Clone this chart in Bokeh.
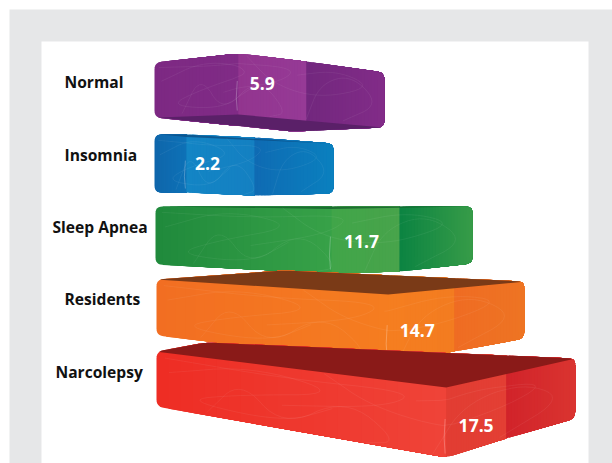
from bokeh.embed import file_html
from bokeh.models import ColumnDataSource, Range1d
from bokeh.plotting import figure
from bokeh.resources import INLINE
from bokeh.core.properties import value as fixed

# Chart content
categories = ["Normal", "Insomnia", "Sleep Apnea", "Residents", "Narcolepsy"]
values = [5.9, 2.2, 11.7, 14.7, 17.5]
value_labels = ["5.9", "2.2", "11.7", "14.7", "17.5"]

# Perspective drawing of each block. The front corner sits at left + value * unit,
# so blocks nearer the viewer have a larger unit.
SHAPES = [
    dict(left=154, unit=14.2, band=68, side=78, lt=62, lb=117, ct=53, cb=114, bt=61, bb=120, rt=72, rb=127,
         under=(292, 131), back=None, label_x=64, label_y=81, val_dx=24, val_y=83,
         front=("#7d2983", "#802b86"), mid=("#92358f", "#963a96"), end=("#72277e", "#822c88"),
         cap="#5a2068"),
    dict(left=154, unit=14.5, band=68, side=79, lt=134, lb=192, ct=134, cb=192, bt=137, bb=195, rt=143, rb=193,
         under=None, back=None, label_x=64, label_y=154, val_dx=21, val_y=163,
         front=("#0f66ab", "#0e72b7"), mid=("#1385c5", "#1480c2"), end=("#0f6bb3", "#0a80bf"),
         cap="#0b4f86"),
    dict(left=155, unit=15.04, band=68, side=73, lt=206, lb=264, ct=206, cb=273, bt=206, bb=271, rt=206, rb=263,
         under=None, back=None, label_x=52, label_y=226, val_dx=30, val_y=241,
         front=("#1f8a3c", "#38a148"), mid=("#41a549", "#48a44b"), end=("#0b8442", "#379b48"),
         cap="#14602b"),
    dict(left=156, unit=15.76, band=66, side=70, lt=279, lb=335, ct=294, cb=362, bt=288, bb=351, rt=281, rb=338,
         under=None, back=(283, 270), label_x=64, label_y=298, val_dx=29, val_y=330,
         front=("#f26e22", "#f57d20"), mid=("#f57e20", "#f37c20"), end=("#ef6c23", "#ee7423"),
         cap="#7a3a17"),
    dict(left=156, unit=16.55, band=60, side=69, lt=351, lb=406, ct=387, cb=457, bt=377, bb=438, rt=358, rb=418,
         under=None, back=(205, 342), label_x=55, label_y=371, val_dx=30, val_y=425,
         front=("#ee2d24", "#ef4338"), mid=("#e23d33", "#e33f34"), end=("#d1232a", "#da3430"),
         cap="#8a1a18"),
]

# Faint hand-drawn loops printed across the block faces, in face coordinates.
SCRIBBLES = [
    [(0.03, 0.35), (0.22, 0.05), (0.45, 0.3), (0.2, 0.55), (0.06, 0.8), (0.3, 0.9), (0.42, 0.55)],
    [(0.12, 0.95), (0.2, 0.3), (0.3, 0.98), (0.45, 0.35), (0.58, 0.9), (0.5, 0.99)],
    [(0.4, 0.02), (0.52, 0.45), (0.72, 0.6), (0.95, 0.3), (0.8, 0.08), (0.62, 0.25)],
    [(0.66, 0.98), (0.72, 0.35), (0.86, 0.12), (0.98, 0.6), (0.82, 0.95)],
    [(0.02, 0.1), (0.3, 0.18), (0.62, 0.12), (0.55, 0.4), (0.3, 0.62)],
]


def round_corners(points, radius=7, samples=6):
    """Replace each vertex of a closed outline by a short curve."""
    out = []
    n = len(points)
    for i, v in enumerate(points):
        a, b = points[i - 1], points[(i + 1) % n]
        def toward(q):
            d = ((q[0] - v[0]) ** 2 + (q[1] - v[1]) ** 2) ** 0.5
            t = min(radius, d / 2) / d
            return (v[0] + (q[0] - v[0]) * t, v[1] + (q[1] - v[1]) * t)
        p0, p2 = toward(a), toward(b)
        for k in range(samples + 1):
            t = k / samples
            out.append(((1 - t) ** 2 * p0[0] + 2 * t * (1 - t) * v[0] + t ** 2 * p2[0],
                        (1 - t) ** 2 * p0[1] + 2 * t * (1 - t) * v[1] + t ** 2 * p2[1]))
    return out


def smooth_open(points, rounds=3):
    for _ in range(rounds):
        out = [points[0]]
        for (x0, y0), (x1, y1) in zip(points, points[1:]):
            out.append((0.75 * x0 + 0.25 * x1, 0.75 * y0 + 0.25 * y1))
            out.append((0.25 * x0 + 0.75 * x1, 0.25 * y0 + 0.75 * y1))
        out.append(points[-1])
        points = out
    return points


def clip_half(points, a, b):
    """Keep the part of a polygon on the positive side of the line a-b."""
    def side(p):
        return (b[0] - a[0]) * (p[1] - a[1]) - (b[1] - a[1]) * (p[0] - a[0])
    out = []
    for i, p in enumerate(points):
        q = points[(i + 1) % len(points)]
        sp, sq = side(p), side(q)
        if sp >= 0:
            out.append(p)
        if sp * sq < 0:
            t = sp / (sp - sq)
            out.append((p[0] + t * (q[0] - p[0]), p[1] + t * (q[1] - p[1])))
    return out


def clip_convex(points, region):
    area = sum(region[i][0] * region[(i + 1) % len(region)][1] - region[(i + 1) % len(region)][0] * region[i][1]
               for i in range(len(region)))
    ring = region if area > 0 else region[::-1]
    for i in range(len(ring)):
        if not points:
            break
        points = clip_half(points, ring[i], ring[(i + 1) % len(ring)])
    return points


def blend(c0, c1, t):
    a = [int(c0[i:i + 2], 16) for i in (1, 3, 5)]
    b = [int(c1[i:i + 2], 16) for i in (1, 3, 5)]
    return "#%02x%02x%02x" % tuple(round(u + (v - u) * t) for u, v in zip(a, b))


p = figure(width=612, height=463, output_backend="svg", toolbar_location=None,
           x_range=Range1d(0, 612), y_range=Range1d(463, 0), min_border=0,
           background_fill_color="white", border_fill_color="white", outline_line_color=None)
p.axis.visible = False
p.grid.visible = False

# Page frame around the chart panel
p.quad(left=[9], right=[612], top=[9], bottom=[463], fill_color="#e6e7e8", line_color=None)
p.quad(left=[41], right=[588], top=[41], bottom=[463], fill_color="white", line_color=None)

for val, s in zip(values, SHAPES):
    corner = s["left"] + val * s["unit"]
    band_end = corner + s["band"]
    right = band_end + s["side"]
    L, C, B, R = s["left"], corner, band_end, right

    # Silhouette, running clockwise from the upper left
    outline = [(L, s["lt"])]
    if s["back"]:
        outline.append(s["back"])
    else:
        outline += [(C, s["ct"]), (B, s["bt"])]
    outline += [(R, s["rt"]), (R, s["rb"])]
    if s["under"]:
        outline.append(s["under"])
    else:
        outline.append((B, s["bb"]))
        outline.append((C, s["cb"]))
    outline.append((L, s["lb"]))
    outline = round_corners(outline)

    # Each face is painted left to right in overlapping slabs, which gives a smooth ramp
    faces = [(L, C, s["front"]), (C, B, s["mid"]), (B, R, s["end"])]
    for x0, x1, (c0, c1) in faces:
        steps = 24
        xs, ys, fills = [], [], []
        for k in range(steps):
            sx0 = x0 + (x1 - x0) * k / steps
            piece = clip_convex(outline, [(sx0, 0), (x1, 0), (x1, 463), (sx0, 463)])
            if piece:
                xs.append([q[0] for q in piece])
                ys.append([q[1] for q in piece])
                fills.append(blend(c0, c1, (k + 0.5) / steps))
        p.patches(xs=xs, ys=ys, fill_color=fills, line_color=None)

    # Top face of the nearer blocks, underside of the raised one, and a thin rim on the flat ones
    if s["back"]:
        top = clip_convex(outline, [(L - 1, s["lt"]), s["back"], (R + 1, s["rt"]), (C, s["ct"])])
        p.patch([q[0] for q in top], [q[1] for q in top], fill_color=s["cap"], line_color=None)
    elif s["under"]:
        low = clip_convex(outline, [(L + 4, s["lb"]), (C, s["cb"]), (R, s["rb"]), s["under"]])
        p.patch([q[0] for q in low], [q[1] for q in low], fill_color=s["cap"], line_color=None)
    else:
        rim = [(L + 6, s["lt"]), (C, s["ct"]), (R - 5, s["rt"]), (C, s["ct"] + 2.5)]
        p.patch([q[0] for q in rim], [q[1] for q in rim], fill_color=s["cap"], line_color=None, fill_alpha=0.8)

    # Scribbled print on the faces
    sx, sy = [], []
    for curve in SCRIBBLES:
        pts = []
        for u, v in smooth_open(curve):
            x = L + (R - L) * u
            if x <= C:
                t = (x - L) / (C - L)
                ytop, ybot = s["lt"] + (s["ct"] - s["lt"]) * t, s["lb"] + (s["cb"] - s["lb"]) * t
            elif x <= B:
                t = (x - C) / (B - C)
                ytop, ybot = s["ct"] + (s["bt"] - s["ct"]) * t, s["cb"] + (s["bb"] - s["cb"]) * t
            else:
                t = (x - B) / (R - B)
                ytop, ybot = s["bt"] + (s["rt"] - s["bt"]) * t, s["bb"] + (s["rb"] - s["bb"]) * t
            pts.append((x, ytop + (ybot - ytop) * v))
        sx.append([q[0] for q in pts])
        sy.append([q[1] for q in pts])
    p.multi_line(xs=sx, ys=sy, line_color="white", line_alpha=0.06, line_width=1)

    # Glint on the lower part of the front corner
    glint_top = s["ct"] + (s["cb"] - s["ct"]) * 0.45
    p.line([C - 1, C - 2, C - 1], [glint_top, (glint_top + s["cb"]) / 2, s["cb"] - 4],
           line_color="white", line_alpha=0.25, line_width=1)

labels = ColumnDataSource(dict(x=[s["label_x"] for s in SHAPES], y=[s["label_y"] for s in SHAPES], text=categories))
p.text(x="x", y="y", text="text", source=labels, text_font=fixed("Open Sans"), text_font_style="bold",
       text_font_size="15.6px", text_color="#111111", text_align="left", text_baseline="middle")

numbers = ColumnDataSource(dict(
    x=[s["left"] + v * s["unit"] + s["val_dx"] for v, s in zip(values, SHAPES)],
    y=[s["val_y"] for s in SHAPES], text=value_labels))
p.text(x="x", y="y", text="text", source=numbers, text_font=fixed("Open Sans"), text_font_style="bold",
       text_font_size="17.5px", text_color="white", text_align="center", text_baseline="middle")

open("out.html", "w").write(file_html(p, INLINE))
